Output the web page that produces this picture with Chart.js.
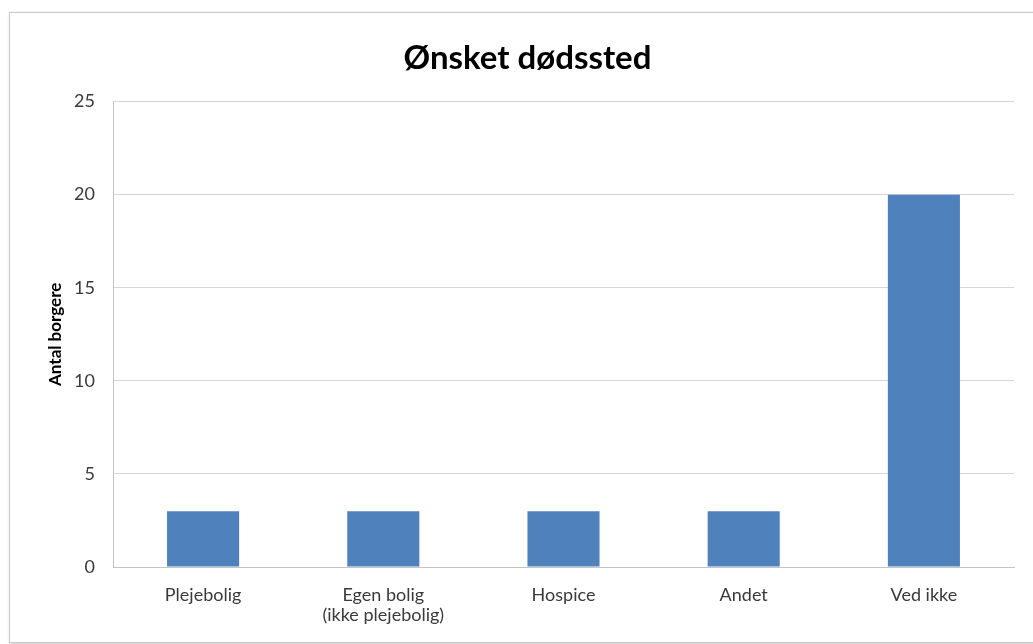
<!DOCTYPE html>
<html>
<head>
<meta charset="utf-8">
<script src="https://cdn.jsdelivr.net/npm/chart.js@4/dist/chart.umd.min.js"></script>
<style>
  html, body { margin: 0; padding: 0; background: #ffffff; overflow: hidden; }
  #frame {
    position: absolute; left: 9px; top: 12px; width: 1060px; height: 629px;
    border: 1px solid #c9c9c9; background: #ffffff;
    box-shadow: 1px 1px 3px rgba(0,0,0,0.22);
  }
  #wrap { position: absolute; left: 0; top: 0; width: 1033px; height: 644px; }
</style>
</head>
<body>
<div id="frame"></div>
<div id="wrap"><canvas id="c" width="1033" height="644"></canvas></div>
<script>
// Ønsket dødssted – antal borgere pr. ønsket sted
const categories = ["Plejebolig", ["Egen bolig", "(ikke plejebolig)"], "Hospice", "Andet", "Ved ikke"];
const antalBorgere = [3, 3, 3, 3, 20];
const yTicks = [0, 5, 10, 15, 20, 25];

const FONT = "Lato, 'Open Sans', sans-serif";

new Chart(document.getElementById("c"), {
  type: "bar",
  data: {
    labels: categories,
    datasets: [{
      data: antalBorgere,
      backgroundColor: "#4f81bd",
      borderWidth: 0,
      categoryPercentage: 0.8,
      barPercentage: 0.5
    }]
  },
  options: {
    responsive: false,
    animation: false,
    layout: { padding: { left: 41, right: 19, top: 0, bottom: 0 } },
    plugins: {
      legend: { display: false },
      tooltip: { enabled: false },
      title: {
        display: true,
        text: "Ønsket dødssted",
        color: "#000000",
        font: { family: FONT, size: 33, weight: "bold", lineHeight: 1.2 },
        padding: { top: 39, bottom: 23 }
      }
    },
    scales: {
      x: {
        afterFit: (s) => { s.height = 77; },
        grid: { display: false, drawTicks: false },
        border: { display: true, color: "#c4c4c4", width: 1 },
        ticks: {
          color: "#3a3a3a",
          font: { family: FONT, size: 18, lineHeight: 1.1 },
          padding: 18,
          maxRotation: 0,
          autoSkip: false
        }
      },
      y: {
        min: 0,
        max: 25,
        afterFit: (s) => { s.width = 72; },
        afterBuildTicks: (s) => { s.ticks = yTicks.map(v => ({ value: v })); },
        grid: { color: "#d6d6d6", lineWidth: 1, drawTicks: false },
        border: { display: true, color: "#c4c4c4", width: 1 },
        ticks: {
          color: "#3a3a3a",
          font: { family: FONT, size: 18 },
          padding: 18
        },
        title: {
          display: true,
          text: "Antal borgere",
          color: "#000000",
          font: { family: FONT, size: 17, weight: "bold", lineHeight: 1.2 },
          padding: { top: 4, bottom: 4 }
        }
      }
    }
  }
});
</script>
</body>
</html>
